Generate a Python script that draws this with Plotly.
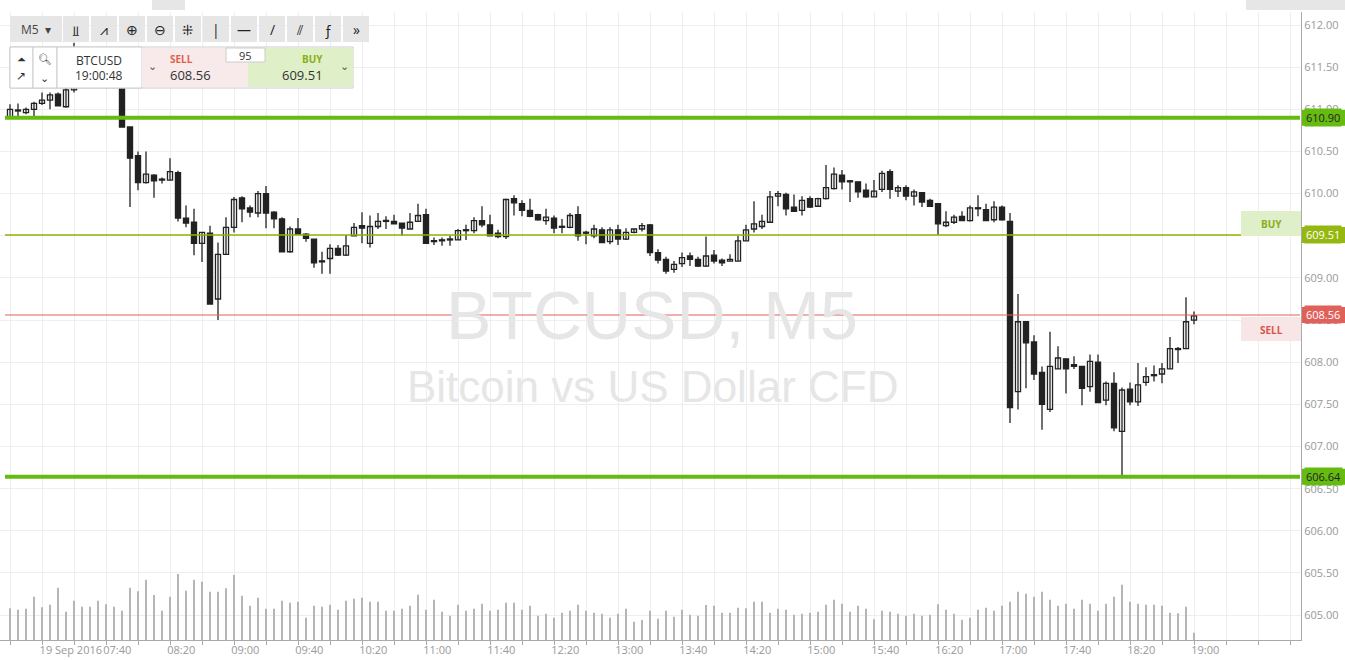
import plotly.graph_objects as go
import pandas as pd

# ---------------- data ----------------
start_time = "2016-09-19 06:35"
opens = [610.91,610.98,610.96,611.00,611.07,611.11,611.18,611.03,611.23,611.45,611.55,611.50,611.60,611.40,611.35,
         610.79,610.45,610.13,610.22,610.16,610.16,610.25,609.71,609.66,609.41,609.53,608.75,609.28,609.60,609.95,
         609.83,609.77,610.00,609.78,609.70,609.31,609.58,609.52,609.46,609.20,609.23,609.35,609.27,609.50,609.62,
         609.41,609.61,609.67,609.67,609.65,609.58,609.67,609.75,609.44,609.44,609.45,609.45,609.56,609.56,609.68,
         609.63,609.53,609.49,609.94,609.88,609.80,609.75,609.68,609.71,609.60,609.60,609.75,609.53,609.50,609.57,
         609.43,609.57,609.46,609.54,609.58,609.63,609.30,609.22,609.10,609.17,609.26,609.22,609.14,609.27,609.21,
         609.20,609.20,609.44,609.58,609.61,609.66,609.97,609.99,609.84,609.80,609.94,609.85,609.94,610.06,610.22,
         610.15,610.14,610.04,609.96,610.05,610.26,610.03,610.07,609.97,610.01,609.92,609.88,609.62,609.66,609.73,
         609.68,609.82,609.81,609.69,609.84,609.67,607.65,608.48,608.24,607.88,607.44,607.92,608.04,607.97,607.95,
         607.71,608.00,607.55,607.75,607.18,607.68,607.53,607.76,607.84,607.86,607.92,608.15,608.16,608.50]
highs = [611.06,611.07,611.02,611.09,611.20,611.20,611.20,611.30,611.79,611.65,611.70,611.70,611.65,611.50,611.40,
         610.79,610.50,610.50,610.23,610.19,610.42,610.27,609.86,609.82,609.54,609.62,609.42,609.72,609.96,609.97,
         609.86,610.03,610.09,609.79,609.72,609.61,609.71,609.53,609.46,609.31,609.40,609.39,609.51,609.65,609.78,
         609.74,609.77,609.73,609.75,609.65,609.77,609.88,609.82,609.48,609.48,609.50,609.58,609.63,609.72,609.85,
         609.75,609.57,609.94,609.98,609.92,609.94,609.76,609.82,609.74,609.70,609.77,609.85,609.56,609.63,609.60,
         609.60,609.63,609.59,609.58,609.65,609.64,609.34,609.25,609.20,609.30,609.30,609.25,609.49,609.33,609.23,
         609.28,609.50,609.63,609.91,609.75,610.03,610.03,610.01,609.99,609.97,609.97,609.95,610.34,610.31,610.28,
         610.16,610.14,610.12,610.16,610.27,610.29,610.10,610.10,610.05,610.02,609.94,609.88,609.79,609.75,609.79,
         609.86,609.98,609.88,609.91,609.86,609.77,608.81,608.48,608.32,607.95,608.36,608.19,608.04,608.07,607.95,
         608.09,608.09,607.77,607.88,607.70,607.76,607.99,607.94,607.96,607.99,608.30,608.18,608.77,608.60]
lows = [610.90,610.90,610.94,610.90,611.05,611.00,611.04,611.02,611.20,611.35,611.40,611.42,611.25,611.25,610.79,
        609.84,610.04,610.12,609.95,610.12,610.16,609.67,609.60,609.27,609.19,608.69,608.50,609.28,609.54,609.66,
        609.72,609.72,609.59,609.59,609.31,609.30,609.52,609.43,609.12,609.05,609.05,609.26,609.26,609.50,609.41,
        609.36,609.58,609.58,609.64,609.50,609.58,609.67,609.41,609.39,609.38,609.38,609.45,609.45,609.53,609.60,
        609.50,609.47,609.46,609.74,609.73,609.72,609.68,609.63,609.53,609.53,609.59,609.44,609.40,609.47,609.42,
        609.40,609.39,609.45,609.53,609.55,609.26,609.17,609.05,609.06,609.13,609.14,609.13,609.13,609.17,609.14,
        609.20,609.20,609.44,609.54,609.58,609.65,609.85,609.74,609.79,609.74,609.83,609.85,609.93,610.05,610.05,
        609.90,609.95,609.95,609.96,610.02,609.94,609.96,609.92,609.86,609.84,609.84,609.51,609.60,609.64,609.68,
        609.67,609.73,609.68,609.66,609.68,607.28,607.44,607.69,607.79,607.20,607.41,607.92,607.63,607.92,607.49,
        607.65,607.52,607.49,607.18,606.63,607.49,607.48,607.72,607.77,607.75,607.92,607.99,608.16,608.45]
closes = [611.00,610.98,611.00,611.07,611.11,611.17,611.04,611.23,611.45,611.55,611.50,611.60,611.40,611.35,610.79,
          610.42,610.13,610.23,610.15,610.16,610.26,609.71,609.65,609.41,609.54,608.69,609.28,609.60,609.93,609.82,
          609.78,610.00,609.77,609.70,609.31,609.58,609.52,609.47,609.18,609.19,609.35,609.27,609.38,609.60,609.59,
          609.61,609.67,609.68,609.64,609.59,609.66,609.74,609.41,609.43,609.44,609.46,609.56,609.57,609.68,609.63,
          609.50,609.49,609.93,609.89,609.80,609.73,609.69,609.72,609.59,609.60,609.74,609.50,609.53,609.58,609.42,
          609.57,609.46,609.54,609.58,609.62,609.30,609.21,609.08,609.16,609.24,609.22,609.14,609.26,609.20,609.18,
          609.22,609.44,609.57,609.64,609.67,609.96,610.00,609.82,609.79,609.92,609.84,609.94,610.07,610.23,610.14,
          610.14,610.02,609.96,610.03,610.24,610.05,610.07,609.97,610.02,609.90,609.85,609.64,609.66,609.72,609.68,
          609.83,609.82,609.68,609.84,609.69,607.46,608.48,608.23,607.86,607.50,607.95,608.05,607.92,607.95,607.69,
          608.01,607.52,607.75,607.22,607.67,607.53,607.73,607.83,607.84,607.92,608.16,608.16,608.48,608.55]
volumes = [95,91,94,130,98,106,157,85,118,100,100,118,107,100,88,157,146,181,135,88,
           130,198,148,181,175,145,145,155,195,133,103,127,94,94,118,112,115,67,103,100,
           106,91,118,124,127,115,115,88,88,94,103,136,91,121,85,73,106,88,94,109,
           88,91,112,112,91,103,73,79,67,82,88,106,88,82,79,67,79,94,55,60,
           88,64,88,70,91,76,
           73,105,103,82,82,97,95,115,115,82,94,91,76,79,82,85,106,121,109,85,
           103,94,62,88,85,79,73,79,73,76,107,91,79,61,67,91,97,88,103,115,
           145,139,130,145,121,103,109,94,121,109,88,109,130,166,115,109,106,106,103,82,
           80,100,22]
x_tick_times = ["07:40","08:20","09:00","09:40","10:20","11:00","11:40","12:20","13:00",
                "13:40","14:20","15:00","15:40","16:20","17:00","17:40","18:20","19:00"]
date_label = "19 Sep 2016"
resistance = 610.90
support = 606.64
buy_price = 609.51
sell_price = 608.56

# ---------------- build ----------------
W, H = 1345, 660
PLOT_TOP, PLOT_BOT = 12, 640
times = pd.date_range(start_time, periods=len(opens), freq="5min")

def px(x):
    return x / W

def py(y):
    return 1 - y / H

fig = go.Figure()

fig.add_trace(go.Bar(x=times, y=volumes, yaxis="y2", width=45000,
                     marker=dict(color="#b5b5b5", line=dict(width=0)), hoverinfo="skip"))

wx, wy = [], []
for t, lo, hi in zip(times, lows, highs):
    wx += [t, t, None]
    wy += [lo, hi, None]
fig.add_trace(go.Scatter(x=wx, y=wy, mode="lines", line=dict(color="#222", width=1.3), hoverinfo="skip"))

base = [min(o, c) for o, c in zip(opens, closes)]
hgt = [max(abs(c - o), 0.012) for o, c in zip(opens, closes)]
cols = ["#ffffff" if c >= o else "#222222" for o, c in zip(opens, closes)]
fig.add_trace(go.Bar(x=times, y=hgt, base=base, width=190000,
                     marker=dict(color=cols, line=dict(color="#222", width=1.3))))

day = "2016-09-19 "
tickvals = [pd.Timestamp(day + "07:13")] + [pd.Timestamp(day + t) + pd.Timedelta(minutes=2) for t in x_tick_times]
ticktext = [date_label] + x_tick_times

x0 = pd.Timestamp(day + "06:28:45")
x1 = x0 + pd.Timedelta(minutes=1301 / 1.6)
ytop = 612 + (25 - PLOT_TOP) / 84.3
ybot = 612 - (PLOT_BOT - 25) / 84.3

fig.update_layout(
    width=W, height=H, margin=dict(l=0, r=0, t=0, b=0, autoexpand=False),
    paper_bgcolor="white", plot_bgcolor="white", showlegend=False, barmode="overlay",
    font=dict(family="Open Sans, Liberation Sans, sans-serif", color="#999", size=11),
    xaxis=dict(domain=[0, 1301 / W], range=[x0, x1], type="date", automargin=False,
               tickvals=tickvals, ticktext=ticktext, tickangle=0, showgrid=False, ticks="",
               showline=True, linecolor="#aaa", linewidth=1, zeroline=False,
               tickfont=dict(size=11, color="#999"),
               minor=dict(dtick=20 * 60000, tick0=day + "06:35", showgrid=True,
                          gridcolor="#eeeeee", gridwidth=1, ticks="outside", ticklen=4, tickcolor="#aaa")),
    yaxis=dict(domain=[1 - PLOT_BOT / H, 1 - PLOT_TOP / H], range=[ybot, ytop], side="right",
               automargin=False, dtick=0.5, tick0=605, tickformat=".2f", showgrid=True, gridcolor="#eeeeee",
               showline=True, linecolor="#aaa", zeroline=False, ticks="",
               tickfont=dict(size=11, color="#999")),
    yaxis2=dict(domain=[1 - PLOT_BOT / H, 1 - PLOT_TOP / H], range=[0, (PLOT_BOT - PLOT_TOP) * 3],
                overlaying="y", visible=False),
)

shapes = []
ann = []
for price, color, wdt in [(resistance, "#66bb11", 4), (support, "#66bb11", 4),
                          (buy_price, "#8db600", 1.5), (sell_price, "#e0605a", 1.2)]:
    shapes.append(dict(type="line", xref="paper", yref="y", x0=px(5), x1=px(1300),
                       y0=price, y1=price, line=dict(color=color, width=wdt)))

def price_tag(price, bg, fg):
    ypx = 25 + (612 - price) * 84.3
    shapes.append(dict(type="rect", xref="paper", yref="paper", x0=px(1302), x1=px(1345),
                       y0=py(ypx + 8), y1=py(ypx - 8), fillcolor=bg, line=dict(width=0)))
    ann.append(dict(xref="paper", yref="paper", x=px(1323), y=py(ypx), text=f"{price:.2f}",
                    showarrow=False, font=dict(size=11, color=fg), xanchor="center", yanchor="middle",
                    bgcolor=bg))

price_tag(resistance, "#66bb11", "#222")
price_tag(buy_price, "#95b810", "#fff")
price_tag(sell_price, "#e0605a", "#fff")
price_tag(support, "#66bb11", "#222")

def box(x_a, x_b, y_a, y_b, fill, line="#cccccc", lw=0):
    shapes.append(dict(type="rect", xref="paper", yref="paper", x0=px(x_a), x1=px(x_b),
                       y0=py(y_b), y1=py(y_a), fillcolor=fill, line=dict(color=line, width=lw)))

def text(x, y, s, size=11, color="#333", bold=False, anchor="center", family=None):
    f = dict(size=size, color=color)
    if family:
        f["family"] = family
    ann.append(dict(xref="paper", yref="paper", x=px(x), y=py(y), text=f"<b>{s}</b>" if bold else s,
                    showarrow=False, font=f, xanchor=anchor, yanchor="middle"))

# BUY / SELL boxes
box(1241, 1301, 211, 236, "#dfefc9")
text(1271, 224, "BUY", 10, "#8aae1a", True)
box(1241, 1301, 317, 341, "#f8e5e5")
text(1271, 330, "SELL", 10, "#d9534f", True)

# watermark
text(652, 315, "BTCUSD, M5", 68, "#e6e6e6", family="Liberation Sans, Arial, sans-serif")
text(652, 387, "Bitcoin vs US Dollar CFD", 44, "#e6e6e6", family="Liberation Sans, Arial, sans-serif")

# top strip
box(152, 185, 0, 10, "#e6e6e6")
box(1246, 1345, 0, 10, "#e6e6e6")

# toolbar
box(10, 62, 16, 42, "#e6e6e6")
text(36, 29, "M5  ▾", 12, "#444")
icons = ["⫫", "⩘", "⊕", "⊖", "⁜", "|", "—", "/", "⫽", "ƒ", "»"]
bx = 63
for ic in icons:
    box(bx, bx + 26, 16, 42, "#e6e6e6")
    text(bx + 13, 29, ic, 14, "#222")
    bx += 28

# quote panel
box(10, 353, 47, 88, "#ffffff", "#cccccc", 1)
box(10, 33, 47, 88, "#ffffff", "#cccccc", 1)
text(21, 58, "⏶", 11, "#333")
text(21, 76, "↗", 12, "#333")
box(33, 57, 47, 88, "#ffffff", "#cccccc", 1)
text(45, 58, "🔍︎", 11, "#333")
text(45, 77, "⌄", 11, "#333")
box(57, 142, 47, 88, "#ffffff", "#cccccc", 1)
text(99, 60, "BTCUSD", 12, "#333")
text(99, 76, "19:00:48", 12, "#333")
box(142, 248, 48, 87, "#f8eaea")
text(152, 66, "⌄", 11, "#555")
text(168, 59, "SELL", 10, "#e0604e", True, "left")
text(168, 75, "608.56", 13, "#333", anchor="left")
box(248, 335, 48, 87, "#dff0c8")
box(335, 353, 48, 87, "#dff0c8")
text(344, 66, "⌄", 11, "#555")
text(325, 59, "BUY", 10, "#8aae1a", True, "right")
text(325, 75, "609.51", 13, "#333", anchor="right")
box(226, 265, 48, 62, "#ffffff", "#cccccc", 1)
text(245, 55, "95", 11, "#333")

fig.update_layout(shapes=shapes, annotations=ann)
fig.write_html("out.html", config={"displayModeBar": False},
               post_script="document.body.style.margin='0';document.body.style.overflow='hidden';")
